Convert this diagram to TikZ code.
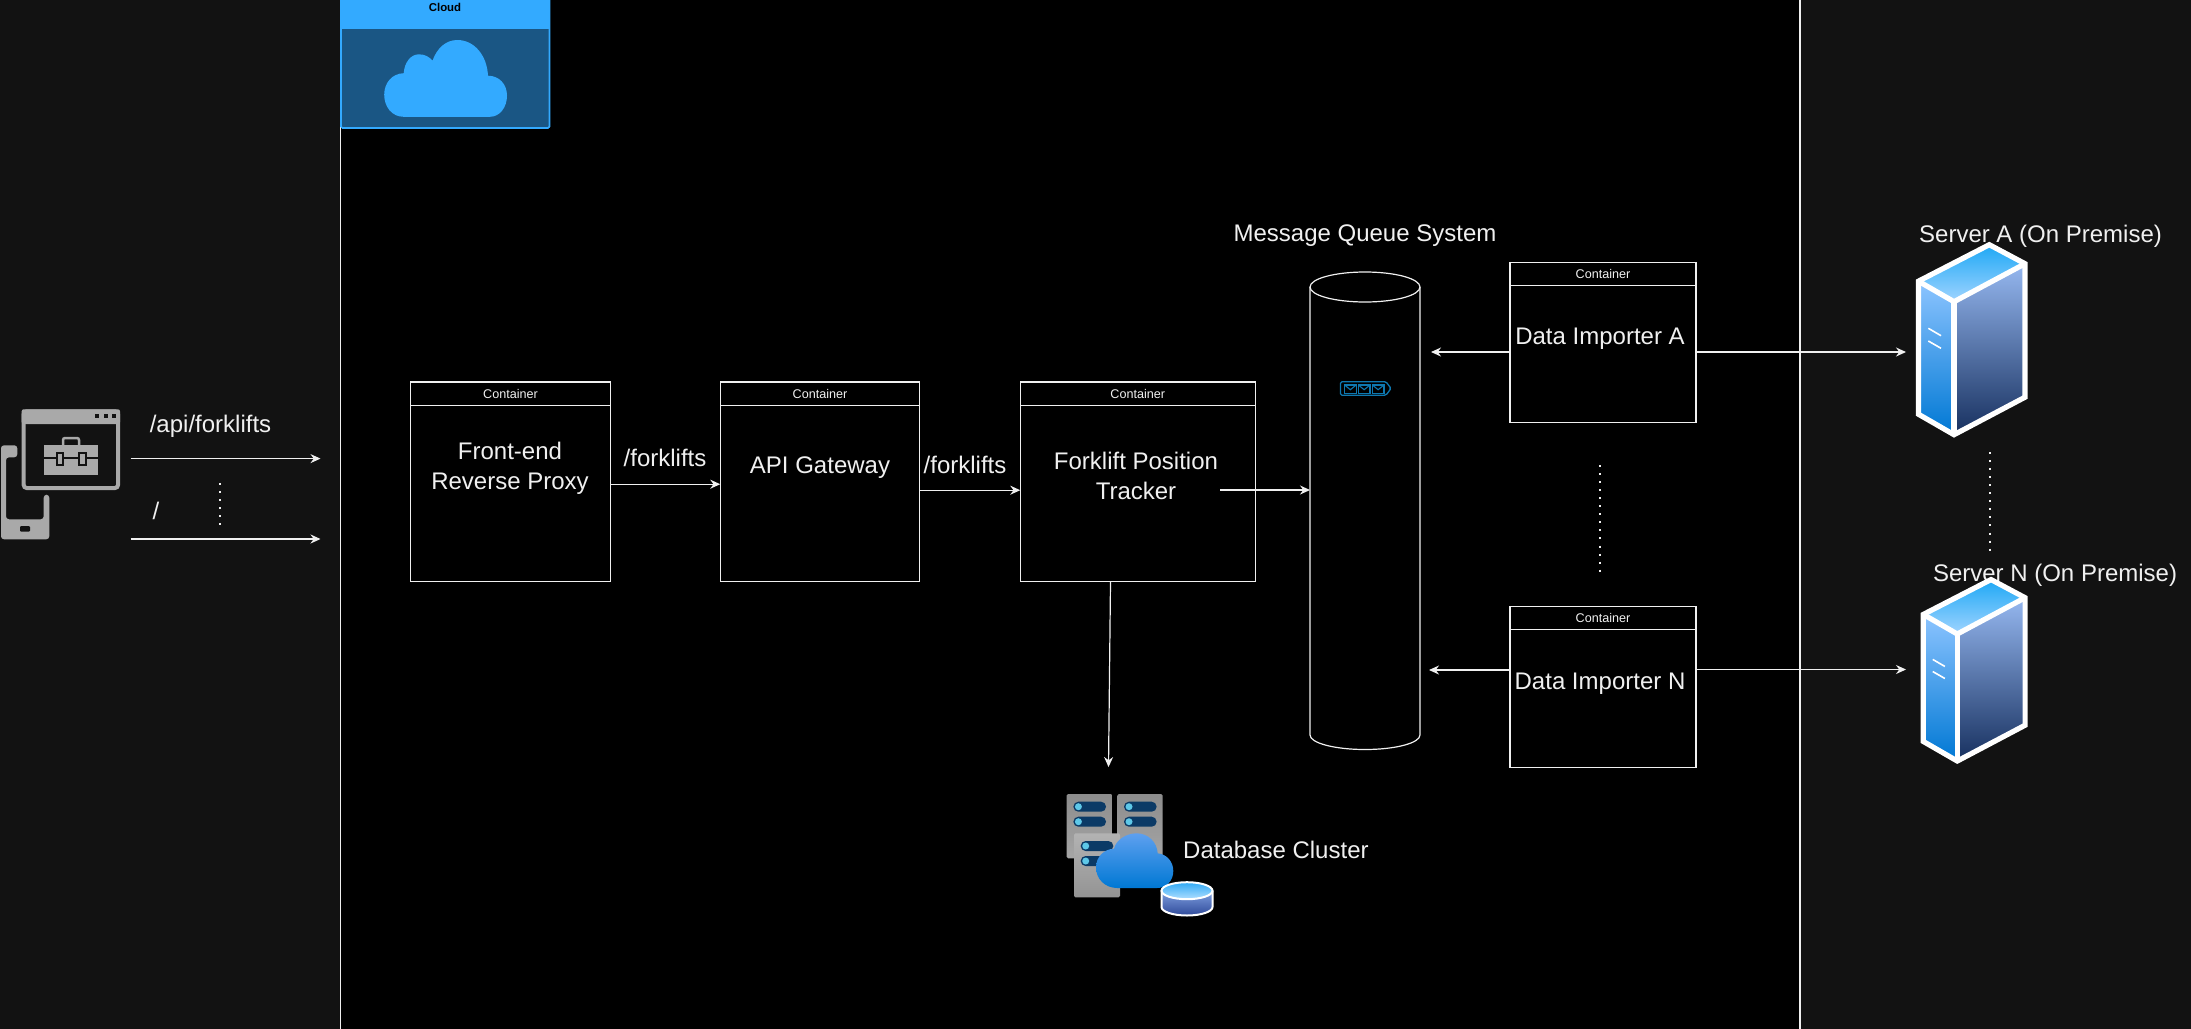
\documentclass[tikz,border=0pt]{standalone}
\usepackage{fontspec}
\setmainfont{Liberation Sans}
\usetikzlibrary{arrows.meta, calc, positioning, shapes.geometric}
\definecolor{paneldark}{HTML}{121212}
\definecolor{textlight}{HTML}{F0F0F0}
\definecolor{cloudblue}{HTML}{33AAFF}
\definecolor{cloudbody}{HTML}{1A5684}
\definecolor{icongray}{HTML}{A9A9A9}
\definecolor{queueblue}{HTML}{0E78B0}
\definecolor{slotblue}{HTML}{0B3A66}
\definecolor{slotdot}{HTML}{5EC8E8}
\tikzset{%
    edge/.style={%
        draw=textlight,
        line width=1.2pt,
        -{Stealth[length=10pt, width=9pt]},
    },
    divider/.style={%
        draw=textlight,
        line width=1.3pt,
    },
    dotted_line/.style={%
        draw=textlight,
        line width=2pt,
        dash pattern=on 2pt off 6.05pt,
    },
    container/.style={%
        rectangle,
        draw=textlight,
        line width=1.2pt,
        inner sep=0pt,
        outer sep=0pt,
    },
    containerhead/.style={%
        rectangle,
        draw=textlight,
        line width=1.2pt,
        inner sep=0pt,
        outer sep=0pt,
        anchor=north west,
        text=textlight,
        font=\fontsize{12.6}{15}\selectfont,
        text centered,
    },
    label/.style={%
        text=textlight,
        inner sep=0pt,
        align=center,
        font=\fontsize{24}{29.5}\selectfont,
    },
    serverico/.pic={%
        \shade[top color={rgb,255:red,30;green,168;blue,245}, bottom color={rgb,255:red,160;green,212;blue,255}] (73.6,3) -- (109.3,22) -- (38.3,60) -- (2.7,39.5) -- cycle;
        \shade[top color={rgb,255:red,140;green,196;blue,255}, middle color={rgb,255:red,46;green,144;blue,255}, bottom color={rgb,255:red,0;green,120;blue,212}] (2.7,39.5) -- (38.3,60) -- (38.3,193) -- (2.7,172.5) -- cycle;
        \shade[top color={rgb,255:red,150;green,184;blue,240}, middle color={rgb,255:red,63;green,99;blue,190}, bottom color={rgb,255:red,23;green,48;blue,95}] (38.3,60) -- (109.3,22) -- (109.3,155.5) -- (38.3,193) -- cycle;
        \draw[white, line width=5.2pt] (73.6,3) -- (109.3,22) -- (109.3,155.5) -- (38.3,193) -- (2.7,172.5) -- (2.7,39.5) -- cycle;
        \draw[white, line width=5.2pt] (2.7,39.5) -- (38.3,60) -- (109.3,22);
        \draw[white, line width=5.2pt] (38.3,60) -- (38.3,193);
        \draw[white, line width=1.6pt] (12.6,86.6) -- (25.3,94);
        \draw[white, line width=1.6pt] (12.6,99.3) -- (25.3,106.6);
    },
}
\newcommand{\rackslots}[2]{%
    \foreach \slot in {7.7,22.7} {%
        \fill[slotblue, rounded corners=4.9pt] ($(#1,#2)+(6.7,\slot)$) rectangle ($(#1,#2)+(39.3,\slot+10)$);
        \fill[slotdot] ($(#1,#2)+(11.7,\slot+5)$) circle (3.5pt);
    }
}
\begin{document}
\begin{tikzpicture}[x=1pt, y=-1pt]
	\useasboundingbox (0,0) rectangle (2191,1028);
	\fill[paneldark] (0,-2) rectangle (2193,1030);
	\fill[black] (340.5,-2) rectangle (1800,1030);
	\draw[divider] (340.5,-2) -- (340.5,1030);
	\draw[divider] (1800,-2) -- (1800,1030);

	% cloud tile
	\fill[cloudbody] (341,0) rectangle (549.5,128);
	\draw[cloudblue, line width=1.6pt, rounded corners=1.5pt] (341,-4) rectangle (549.5,128);
	\fill[cloudblue] (341,0) rectangle (549.5,29);
	\node[text=black, inner sep=0pt, font=\bfseries\fontsize{11.4}{14}\selectfont] (cloud_title) at (445,7) {Cloud};
	\fill[cloudblue] (403.7,116.8) .. controls (392,116.8) and (384.2,107) .. (384.2,94.6)
		.. controls (384.2,83) and (392,73.5) .. (403.7,73.2)
		.. controls (404.5,62) and (411,54.3) .. (419,54.3)
		.. controls (425,54.3) and (429.5,57) .. (432.5,60.7)
		.. controls (437,48) and (446,40) .. (457.3,40)
		.. controls (474,40) and (487,55) .. (488,75.7)
		.. controls (499,75.7) and (507,84) .. (507,95.7)
		.. controls (507,107) and (500,116.8) .. (490,116.8) -- cycle;

	% client icon
	\fill[icongray, rounded corners=3pt] (17.3,445.3) -- (1,445.3) -- (1,539.3) -- (49.3,539.3) -- (49.3,494.7) -- (43.7,494.7) -- (43.7,519.3) -- (6,519.3) -- (6,457.3) -- (17.3,457.3) -- cycle;
	\fill[paneldark, rounded corners=1pt] (20,526) rectangle (30,531.7);
	\draw[icongray, line width=4pt, rounded corners=3pt] (23.7,411.3) rectangle (118,488);
	\fill[icongray, rounded corners=2pt] (21.7,409.3) rectangle (120,424);
	\foreach \dotx in {95,103.7,112} {%
		\fill[paneldark] (\dotx,414) rectangle (\dotx+4,418);
	}
	\draw[icongray, line width=2.5pt, rounded corners=2pt] (63,445.3) -- (63,438) -- (79,438) -- (79,445.3);
	\fill[icongray] (44.3,445.3) rectangle (97.7,475);
	\draw[paneldark, line width=2pt] (44.3,458) -- (97.7,458);
	\foreach \claspx in {56.7,79} {%
		\draw[paneldark, line width=2pt, fill=icongray] (\claspx,452.7) rectangle (\claspx+6.7,465);
	}

	\node[label] (path_api) at (210.5,426) {/api/forklifts};
	\node[label] (path_root) at (156,511) {/};
	\draw[dotted_line] (220,483) -- (220,525);
	\coordinate (client_top) at (130.5,458.6);
	\coordinate (client_bottom) at (130.5,539);
	\coordinate (cloud_top) at (320.5,458.6);
	\coordinate (cloud_bottom) at (320.5,539);
	\draw[edge] (client_top) -- (cloud_top);
	\draw[edge] (client_bottom) -- (cloud_bottom);

	% containers
	\node[container, minimum width=199.5pt, minimum height=199.5pt] (proxy) at (510.5,481.7) {};
	\node[containerhead, minimum width=199.5pt, minimum height=23.5pt] (proxy_head) at (proxy.north west) {Container};
	\node[label] (proxy_text) at (510,468.5) {Front-end\\Reverse Proxy};

	\node[container, minimum width=199.5pt, minimum height=199.5pt, right=110pt of proxy] (gateway) {};
	\node[containerhead, minimum width=199.5pt, minimum height=23.5pt] (gateway_head) at (gateway.north west) {Container};
	\node[label] (gateway_text) at (820,468) {API Gateway};

	\node[container, minimum width=235pt, minimum height=199.5pt, right=100.5pt of gateway] (tracker) {};
	\node[containerhead, minimum width=235pt, minimum height=23.5pt] (tracker_head) at (tracker.north west) {Container};
	\node[label] (tracker_text) at (1136,476) {Forklift Position\\ Tracker};

	\node[label] (gateway_path) at (665,458) {/forklifts};
	\node[label] (tracker_path) at (965,464.5) {/forklifts};

	% queue
	\node[rectangle, inner sep=0pt, outer sep=0pt, minimum width=110pt, minimum height=477.5pt] (queue) at (1365,510.7) {};
	\draw[textlight, line width=1.2pt] (1365,287) ellipse (55pt and 15pt);
	\draw[textlight, line width=1.2pt] (queue.west |- 0,287) -- (queue.west |- 0,735) arc[start angle=180, end angle=0, x radius=55, y radius=14.5] -- (queue.east |- 0,287);
	\node[label] (queue_text) at (1365,236) {Message Queue System};
	\draw[queueblue, line width=1.3pt, rounded corners=1.5pt] (1340.5,381.7) -- (1386,381.7) -- (1391,388.4) -- (1386,395.2) -- (1340.5,395.2) -- cycle;
	\foreach \envx in {1344.5,1358.3,1372.3} {%
		\draw[queueblue, line width=1.1pt] (\envx,385) rectangle (\envx+11.7,393.3);
		\draw[queueblue, line width=1.1pt] (\envx,385) -- (\envx+5.85,389.7) -- (\envx+11.7,385);
	}

	% importers
	\node[container, minimum width=186pt, minimum height=160pt] (importer_a) at (1603,342.3) {};
	\node[containerhead, minimum width=186pt, minimum height=23pt] (importer_a_head) at (importer_a.north west) {Container};
	\node[label] (importer_a_text) at (1600,339) {Data Importer A};
	\node[container, minimum width=186pt, minimum height=161pt] (importer_n) at (1603,687) {};
	\node[containerhead, minimum width=186pt, minimum height=23pt] (importer_n_head) at (importer_n.north west) {Container};
	\node[label] (importer_n_text) at (1600,683.5) {Data Importer N};
	\draw[dotted_line] (importer_a_text |- 0,465) -- (importer_a_text |- 0,573);
	\draw[dotted_line] (1990,452) -- (1990,552);

	% servers
	\node[label] (server_a_text) at (2040.5,236) {Server A (On Premise)};
	\node[label] (server_n_text) at (2055,575) {Server N (On Premise)};
	\pic (server_a) at (1915.7,241.7) {serverico};
	\pic[scale=.955] (server_n) at (1920.7,576.7) {serverico};

	% database
	\node[label, anchor=west] (database_text) at (1183,850) {Database Cluster};
	\shade[top color=black!45, bottom color=black!35, rounded corners=1.5pt] (1066.7,794) rectangle (1112.3,858.3);
	\shade[top color=black!45, bottom color=black!35, rounded corners=1.5pt] (1117.3,794) rectangle (1162.7,858.3);
	\shade[top color=black!30, bottom color=black!42, rounded corners=1.5pt] (1074,833.3) rectangle (1120,897.3);
	\rackslots{1066.7}{794}
	\rackslots{1117.3}{794}
	\rackslots{1074}{833.3}
	\shade[top color={rgb,255:red,94;green,160;blue,239}, bottom color={rgb,255:red,0;green,120;blue,212}]
		(1117.3,888) .. controls (1105,888) and (1096,879) .. (1096,867.3)
		.. controls (1096,857) and (1104,849) .. (1114,848.7)
		.. controls (1116,840) and (1126,833.3) .. (1136.7,833.3)
		.. controls (1148,833.3) and (1157,842) .. (1157.7,853.3)
		.. controls (1166,854) and (1173.3,861) .. (1173.3,871)
		.. controls (1173.3,881) and (1166,888) .. (1157.3,888) -- cycle;
	\shade[top color={rgb,255:red,127;green,160;blue,224}, bottom color={rgb,255:red,47;green,74;blue,154}] (1161.5,890.7) -- (1161.5,907) arc[start angle=180, end angle=0, x radius=25.5, y radius=8.5] -- (1212.5,890.7) -- cycle;
	\shade[top color={rgb,255:red,47;green,169;blue,245}, bottom color={rgb,255:red,176;green,222;blue,255}] (1187,890.7) ellipse (25.5pt and 8.5pt);
	\draw[white, line width=2pt] (1187,890.7) ellipse (25.5pt and 8.5pt);
	\draw[white, line width=2pt] (1161.5,890.7) -- (1161.5,907) arc[start angle=180, end angle=0, x radius=25.5, y radius=8.5] -- (1212.5,890.7);

	% connectors
	\draw[edge] ([yshift=-2.5pt]proxy.east) -- ([yshift=-2.5pt]gateway.west);
	\draw[edge] ([yshift=-8.5pt]gateway.east) -- ([yshift=-8.5pt]tracker.west);
	\coordinate (tracker_out) at (1220,490);
	\draw[edge] (tracker_out) -- (tracker_out -| queue.west);
	\coordinate (tracker_down) at (1110.5,581);
	\coordinate (database_in) at (1108.5,767);
	\draw[edge] (tracker_down) -- (database_in);

	\coordinate (queue_in_a) at (1431,352);
	\coordinate (queue_in_n) at (1429,670);
	\coordinate (server_in_a) at (1906,352);
	\coordinate (server_in_n) at (1906,669.5);
	\draw[edge] (importer_a.west |- queue_in_a) -- (queue_in_a);
	\draw[edge] (importer_n.west |- queue_in_n) -- (queue_in_n);
	\draw[edge] (importer_a.east |- server_in_a) -- (server_in_a);
	\draw[edge] (importer_n.east |- server_in_n) -- (server_in_n);
\end{tikzpicture}
\end{document}
